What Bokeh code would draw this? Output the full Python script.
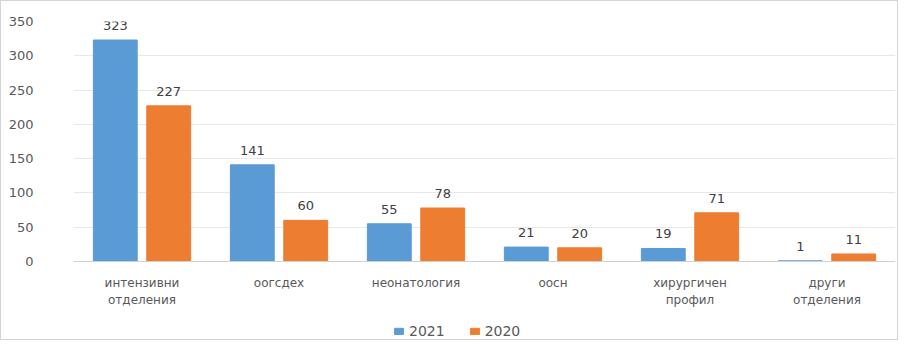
from bokeh.plotting import figure
from bokeh.models import ColumnDataSource, FactorRange, Range1d, Legend, LegendItem, FixedTicker, Span
from bokeh.transform import dodge
from bokeh.core.properties import value
from bokeh.embed import file_html
from bokeh.resources import INLINE

categories = ["интензивни\nотделения", "оогсдех", "неонатология", "оосн",
              "хирургичен\nпрофил", "други\nотделения"]
series_2021 = [323, 141, 55, 21, 19, 1]
series_2020 = [227, 60, 78, 20, 71, 11]
series_names = ["2021", "2020"]
y_ticks = [0, 50, 100, 150, 200, 250, 300, 350]

BLUE = "#5B9BD5"
ORANGE = "#ED7D31"
FONT = "DejaVu Sans"

src = ColumnDataSource(dict(
    cat=categories,
    base=[0] * len(categories),
    v21=series_2021,
    v20=series_2020,
    l21=[str(v) for v in series_2021],
    l20=[str(v) for v in series_2020],
))

# y range extends below zero so the category labels and legend sit inside the frame
p = figure(width=898, height=340, x_range=FactorRange(*categories, range_padding=0),
           y_range=Range1d(-113.75, 350), output_backend="svg", toolbar_location=None,
           min_border_left=72, min_border_right=4, min_border_top=20, min_border_bottom=2)
p.styles = {"border": "1px solid #d4d4d4"}

off = 0.195
w = 0.32
r21 = p.vbar(x=dodge("cat", -off, range=p.x_range), top="v21", width=w, source=src,
             fill_color=BLUE, line_color=BLUE)
r20 = p.vbar(x=dodge("cat", off, range=p.x_range), top="v20", width=w, source=src,
             fill_color=ORANGE, line_color=ORANGE)

p.text(x=dodge("cat", -off, range=p.x_range), y="v21", text="l21", source=src,
       text_align="center", text_baseline="bottom", y_offset=-10,
       text_font=value(FONT), text_font_size="13px", text_color="#404040")
p.text(x=dodge("cat", off, range=p.x_range), y="v20", text="l20", source=src,
       text_align="center", text_baseline="bottom", y_offset=-10,
       text_font=value(FONT), text_font_size="13px", text_color="#404040")

# category labels below the zero line
p.text(x="cat", y="base", text="cat", source=src, text_align="center",
       text_baseline="top", y_offset=14, text_line_height=1.25,
       text_font=value(FONT), text_font_size="12px", text_color="#595959")

p.add_layout(Span(location=0, dimension="width", line_color="#d0d0d0", line_width=1))

p.outline_line_color = None
p.xgrid.grid_line_color = None
p.ygrid.grid_line_color = "#e8e8e8"
p.ygrid.ticker = FixedTicker(ticks=y_ticks)

p.yaxis.ticker = FixedTicker(ticks=y_ticks)
p.yaxis.axis_line_color = None
p.yaxis.major_tick_line_color = None
p.yaxis.minor_tick_line_color = None
p.yaxis.major_label_standoff = 34
p.yaxis.major_label_text_font = FONT
p.yaxis.major_label_text_font_size = "13px"
p.yaxis.major_label_text_color = "#595959"

p.xaxis.visible = False

legend = Legend(items=[LegendItem(label=series_names[0], renderers=[r21]),
                       LegendItem(label=series_names[1], renderers=[r20])],
                orientation="horizontal", location=(320, 0),
                label_text_font=FONT, label_text_font_size="14px",
                label_text_color="#595959", glyph_width=11, glyph_height=8,
                label_height=14, padding=2, margin=0, spacing=24,
                border_line_color=None, background_fill_alpha=0)
p.add_layout(legend, "center")

open("out.html", "w").write(file_html(p, INLINE))
